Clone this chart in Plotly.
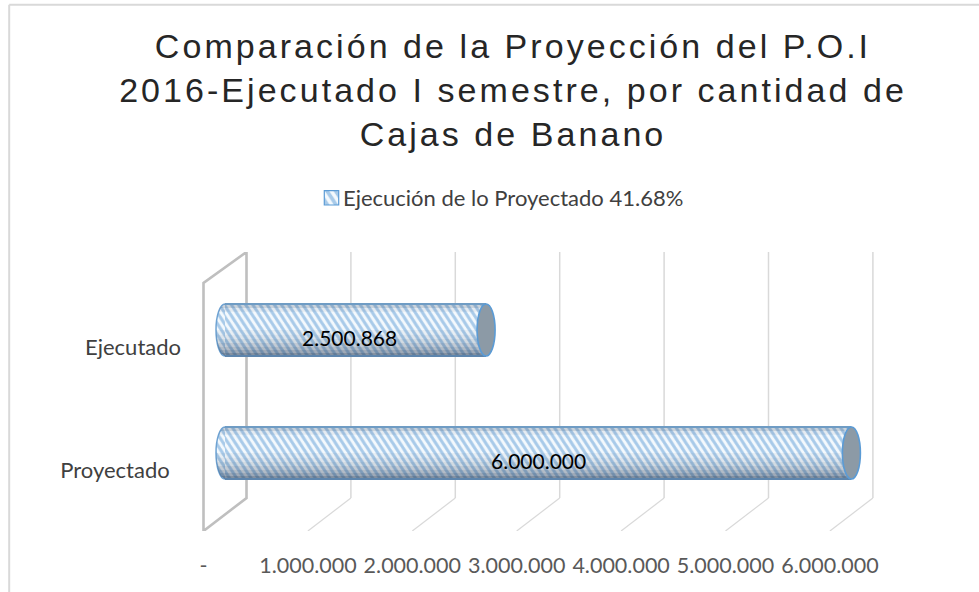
import math
import plotly.graph_objects as go

# ---- data ----
categories = ["Proyectado\u00a0\u00a0", "Ejecutado"]
values = [6000000, 2500868]
value_labels = ["6.000.000", "2.500.868"]
series_name = "Ejecución de lo Proyectado 41.68%"
tick_values = [0, 1000000, 2000000, 3000000, 4000000, 5000000, 6000000]
tick_labels = ["-", "1.000.000", "2.000.000", "3.000.000", "4.000.000", "5.000.000", "6.000.000"]
title = "Comparación de la Proyección del P.O.I<br>2016-Ejecutado I semestre, por cantidad de<br>Cajas de Banano"

W, H = 979, 592
# pixel geometry of the axes
X0_PX = 225.0          # value 0 on the mid plane where the bars run
PX_PER_UNIT = 104.4 / 1e6
DOM_L, DOM_R = 190, 900
PLOT_T, PLOT_B = 252, 531
ROW = 123.0            # px between categories
ROW0_PX = 453.0        # px of first category

def dx(px):
    return px / PX_PER_UNIT

x_range = [dx(DOM_L - X0_PX), dx(DOM_R - X0_PX)]
y_range = [(ROW0_PX - PLOT_B) / ROW, (ROW0_PX - PLOT_T) / ROW]

def vy(px):
    return (ROW0_PX - px) / ROW

FRONT = dx(-21.5)
BACK = dx(21.5)
Y_BACK_BOTTOM = vy(498)
Y_FRONT_BOTTOM = vy(531)
Y_TOP = vy(252)
Y_WALL_TOP = vy(283)

shapes = []
GRID = "#d9d9d9"
WALL = "#bfbfbf"
for t in tick_values[1:]:
    shapes.append(dict(type="line", xref="x", yref="y", layer="below",
                       x0=t + BACK, x1=t + BACK, y0=Y_BACK_BOTTOM, y1=Y_TOP,
                       line=dict(color=GRID, width=1.5)))
    shapes.append(dict(type="line", xref="x", yref="y", layer="below",
                       x0=t + BACK, x1=t + FRONT, y0=Y_BACK_BOTTOM, y1=Y_FRONT_BOTTOM,
                       line=dict(color=GRID, width=1.2)))
# side wall
wx0, wx1 = BACK, FRONT
shapes.append(dict(type="path", xref="x", yref="y", layer="below",
                   path=f"M {wx1} {Y_FRONT_BOTTOM} L {wx1} {Y_WALL_TOP} L {wx0} {Y_TOP} L {wx0} {Y_BACK_BOTTOM} Z",
                   line=dict(color=WALL, width=2.6)))
# chart frame: only the top and left edges are visible in the picture
FRAME_X, FRAME_Y = 9.2 / W, 1 - 4.8 / H
shapes.append(dict(type="line", xref="paper", yref="paper", layer="below",
                   x0=FRAME_X, x1=1, y0=FRAME_Y, y1=FRAME_Y, line=dict(color=GRID, width=2)))
shapes.append(dict(type="line", xref="paper", yref="paper", layer="below",
                   x0=FRAME_X, x1=FRAME_X, y0=0, y1=FRAME_Y, line=dict(color=GRID, width=2)))

HALF = 0.5 * 52 / ROW      # half bar thickness in category units
CAP_HALF = dx(9)

def cap_x(f):
    return -CAP_HALF * math.sqrt(max(0.0, 1 - f * f))

# shading bands across the cylinder (dark at the bottom, light near the top)
bands = [(-1.00, -0.88, 0.55), (-0.88, -0.76, 0.42), (-0.76, -0.64, 0.32),
         (-0.64, -0.50, 0.24), (-0.50, -0.35, 0.16), (-0.35, -0.18, 0.10),
         (-0.18, 0.00, 0.05), (0.70, 0.85, 0.07), (0.85, 1.00, 0.20)]
for i, v in enumerate(values):
    # rounded left end (hatched by the page script below)
    shapes.append(dict(type="circle", xref="x", yref="y", layer="below",
                       x0=-CAP_HALF, x1=CAP_HALF, y0=i - HALF, y1=i + HALF,
                       fillcolor="#b8d4ec", line=dict(color="#6fa3d3", width=1.5)))
    for a, b, op in bands:
        ya, yb = i + a * HALF, i + b * HALF
        shapes.append(dict(type="path", xref="x", yref="y", layer="above",
                           path=f"M {cap_x(a)} {ya} L {v} {ya} L {v} {yb} L {cap_x(b)} {yb} Z",
                           fillcolor=f"rgba(40,60,85,{op})", line=dict(width=0)))
    # top and bottom edges
    shapes.append(dict(type="line", xref="x", yref="y", layer="above",
                       x0=0, x1=v, y0=i + HALF, y1=i + HALF, line=dict(color="#6f9cc4", width=2)))
    shapes.append(dict(type="line", xref="x", yref="y", layer="above",
                       x0=0, x1=v, y0=i - HALF, y1=i - HALF, line=dict(color="#5d85ad", width=2)))
    # right cap
    shapes.append(dict(type="circle", xref="x", yref="y", layer="above",
                       x0=v - CAP_HALF, x1=v + CAP_HALF, y0=i - HALF, y1=i + HALF,
                       fillcolor="#8c9aa6", line=dict(color="#5b9bd5", width=1.6)))

fig = go.Figure()
fig.add_trace(go.Bar(
    y=list(range(len(categories))), x=values, orientation="h", width=52 / ROW,
    name=series_name, showlegend=True,
    marker=dict(color="#ffffff", line=dict(width=0),
                pattern=dict(shape="\\", fgcolor="#5b9bd5", bgcolor="#f4f9fd",
                             size=6, solidity=0.52)),
    hoverinfo="skip",
))

annotations = [
    dict(x=v / 2, y=i, xref="x", yref="y", text=lab, showarrow=False,
         xshift=s, yshift=-7, font=dict(family="Lato", size=21, color="#000000"))
    for i, (v, lab, s) in enumerate(zip(values, value_labels, [0, -6]))
]

fig.update_layout(
    width=W, height=H, autosize=False,
    margin=dict(l=0, r=0, t=0, b=0),
    paper_bgcolor="#ffffff", plot_bgcolor="rgba(0,0,0,0)",
    font=dict(family="Lato", color="#595959"),
    title=dict(text=title, x=513 / W, xanchor="center", y=1 - 58 / H, yanchor="top",
               font=dict(family="Liberation Sans", size=34, color="#262626")),
    legend=dict(x=496 / W, xanchor="center", y=1 - 198 / H, yanchor="middle",
                orientation="h", font=dict(family="Lato", size=22, color="#404040"),
                bgcolor="rgba(0,0,0,0)"),
    xaxis=dict(domain=[DOM_L / W, DOM_R / W], range=x_range, showgrid=False, zeroline=False,
               showline=False, tickmode="array",
               tickvals=[t + FRONT for t in tick_values], ticktext=tick_labels,
               tickfont=dict(family="Lato", size=21.5, color="#595959"), ticks="",
               ticklabelstandoff=19),
    yaxis=dict(domain=[1 - PLOT_B / H, 1 - PLOT_T / H], range=y_range, showgrid=False, zeroline=False,
               showline=False, tickmode="array",
               tickvals=[i - 17 / ROW for i in range(len(categories))],
               ticktext=categories, tickfont=dict(family="Lato", size=22, color="#404040"),
               ticks="", ticklabelstandoff=8, automargin=False),
    shapes=shapes,
    annotations=annotations,
    bargap=0,
)

page_js = """
document.body.style.margin='0';
document.querySelectorAll('.gtitle').forEach(function(t){t.style.letterSpacing='3.05px';});
document.querySelectorAll('.legendpoints').forEach(function(g){
  g.setAttribute('transform','translate(8.5,0) '+(g.getAttribute('transform')||''));
});
document.querySelectorAll('path.legendbar, .legendpoints path').forEach(function(p){
  p.setAttribute('transform',(p.getAttribute('transform')||'')+' scale(1.2)');
  p.style.stroke='#5b9bd5'; p.style.strokeWidth='1px';
});
var pats=document.querySelectorAll('pattern');
pats.forEach(function(p){p.setAttribute('patternTransform','rotate(12)');});
if(pats.length){
  var fillUrl='url(#'+pats[0].id+')';
  document.querySelectorAll('.shapelayer path').forEach(function(p){
    if(p.style.fill==='rgb(184, 212, 236)'){p.style.fill=fillUrl;}
  });
}
"""
fig.write_html("out.html", post_script=page_js, config={"displayModeBar": False})
